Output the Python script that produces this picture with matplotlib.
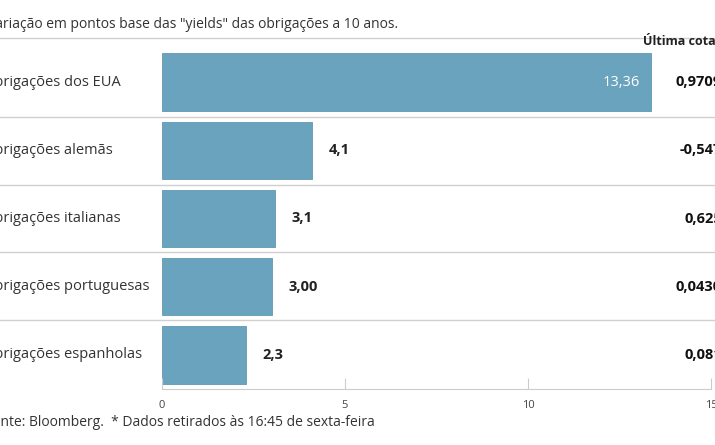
import matplotlib
matplotlib.use("Agg")
import matplotlib.pyplot as plt

categories = ["Obrigações dos EUA", "Obrigações alemãs", "Obrigações italianas",
              "Obrigações portuguesas", "Obrigações espanholas"]
values = [13.36, 4.1, 3.1, 3.00, 2.3]
value_labels = ["13,36", "4,1", "3,1", "3,00", "2,3"]
quotes = ["0,9709", "-0,547", "0,625", "0,0430", "0,081"]
ticks = [0, 5, 10, 15]

W, H = 715, 445
fig = plt.figure(figsize=(W/100, H/100), dpi=100)
plt.rcParams["font.family"] = "Open Sans"
def fx(p): return p / W
def fy(p): return 1 - p / H

ax = fig.add_axes([fx(162), 1 - 389/H, (711-162)/W, (389-48)/H])
ax.set_xlim(0, 15)
ax.set_ylim(4.5, -0.5)
ys = list(range(len(categories)))
ax.barh(ys, values, height=0.84, color="#6aa3bd", edgecolor="#5f98b2", linewidth=0.6)
for y, v, lab in zip(ys, values, value_labels):
    if v > 10:
        ax.text(v - 0.3, y, lab, ha="right", va="center", color="white", fontsize=10.5)
    else:
        ax.text(v + 0.45, y, lab, ha="left", va="center", color="#222222",
                fontsize=10.5, fontweight="bold")
for s in ["top", "right", "left"]:
    ax.spines[s].set_visible(False)
ax.spines["bottom"].set_color("#cccccc")
ax.set_yticks([])
ax.set_xticks(ticks)
ax.set_xticklabels([str(t) for t in ticks])
ax.tick_params(axis="x", direction="in", length=8, color="#cccccc",
               labelsize=8, labelcolor="#444444", pad=8)

# row separators spanning whole width
for p in [38, 117, 185, 252, 320]:
    fig.add_artist(plt.Line2D([0, 1], [fy(p), fy(p)], color="#d0d0d0", lw=1))

for y, cat, q in zip(ys, categories, quotes):
    py = 48 + (y + 0.5) * (389 - 48) / 5
    fig.text(fx(-17), fy(py), cat, ha="left", va="center", fontsize=10.5, color="#333333")
    fig.text(fx(722), fy(py), q, ha="right", va="center", fontsize=10.5,
             color="#111111", fontweight="bold")

fig.text(fx(-13), fy(25), 'Variação em pontos base das "yields" das obrigações a 10 anos.',
         ha="left", va="center", fontsize=10, color="#333333")
fig.text(fx(643), fy(41), "Última cotação*", ha="left", va="center", fontsize=9,
         fontweight="bold", color="#222222")
fig.text(fx(-15), fy(422), "Fonte: Bloomberg.  * Dados retirados às 16:45 de sexta-feira",
         ha="left", va="center", fontsize=10, color="#333333")

fig.savefig("out.png", dpi=100)
